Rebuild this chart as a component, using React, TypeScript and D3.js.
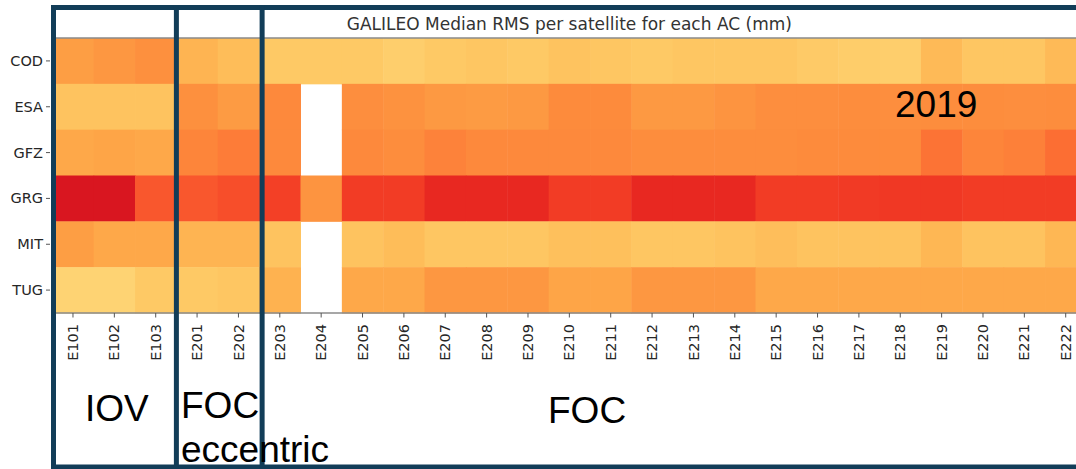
import React from 'react';
import * as d3 from 'd3';

// satellites (columns) and analysis centres (rows)
const satellites = [
  'E101', 'E102', 'E103', 'E201', 'E202', 'E203', 'E204', 'E205', 'E206', 'E207', 'E208', 'E209', 'E210',
  'E211', 'E212', 'E213', 'E214', 'E215', 'E216', 'E217', 'E218', 'E219', 'E220', 'E221', 'E222',
];
const centres = ['COD', 'ESA', 'GFZ', 'GRG', 'MIT', 'TUG'];

// median RMS (mm), null = no solution
const codRms = [17.6, 18.4, 19.2, 14.8, 13.6, 12, 12, 12, 11.2, 12, 12.4, 12, 12.8, 12.4, 12, 12.4, 12.4, 12.4, 11.8, 11.4, 11.2, 14, 12.4, 12.4, 14];
const esaRms = [12.8, 12.8, 12.8, 19.2, 18, 20, null, 19.4, 19, 18.2, 18, 18.2, 19.8, 19.8, 18.2, 18.2, 18.8, 19.4, 19.4, 19.6, 19.4, 19.6, 19.6, 19.4, 19.6];
const gfzRms = [16.4, 16.8, 16.4, 20.4, 21.2, 20, null, 20, 19.6, 20.6, 20, 20, 20, 20, 19.6, 19.6, 19.6, 19.6, 19.8, 19.8, 19.8, 22, 20.4, 20.8, 22.4];
const grgRms = [31.2, 31.2, 24.4, 24.4, 25.2, 26.4, 18.8, 26.8, 26.8, 28.8, 28.8, 28.8, 26.8, 26.8, 28.8, 28.8, 28.8, 26.8, 26.8, 27, 27.2, 27.2, 26.8, 26.8, 26.8];
const mitRms = [17.6, 16.4, 16.4, 14.8, 14.8, 12.8, null, 12.8, 13.6, 12.4, 12.4, 12.4, 13.2, 13.2, 12.4, 12.4, 12.8, 13.4, 12.8, 12.8, 12.8, 14.4, 12.8, 12.8, 14.4];
const tugRms = [10.4, 10.4, 12, 12, 12.4, 15, null, 16.4, 16.4, 18.4, 18.4, 18.4, 16.8, 16.8, 18.4, 18.4, 18.4, 16.4, 16.4, 16.4, 16.4, 16.4, 16.4, 16.4, 16.4];

// satellite groups and first satellite of each
const groupStarts = ['E101', 'E201', 'E203'];

const App = () => {
  const width = 1076,
    height = 469;

  const rows = [codRms, esaRms, gfzRms, grgRms, mitRms, tugRms];
  const cells = [];
  rows.forEach((vals, i) => {
    vals.forEach((v, j) => {
      cells.push({ ac: centres[i], sat: satellites[j], value: v });
    });
  });

  var x = d3.scaleBand().domain(satellites).range([52.3, 1086.4]);
  var y = d3.scaleBand().domain(centres).range([38, 313]);
  var color = d3.scaleSequential(d3.interpolateYlOrRd).domain([0, 40]);

  const boxColor = '#123d58';
  const boxTop = 7.5,
    boxBottom = 467;
  const dividers = groupStarts.map((s, i) => (i === 0 ? 53.5 : x(s) + (i === 2 ? 3 : 0)));

  const tickFont = { fontFamily: 'DejaVu Sans', fontSize: 14.5, fill: '#262626' };
  const bigFont = { fontFamily: 'Liberation Sans, Arial', fontSize: 37, fill: '#000' };

  return (
    <svg width={width} height={height} style={{ position: 'absolute', left: 0, top: 0, background: '#fff' }}>
      {/* heatmap cells */}
      <g>
        {cells.map((d) =>
          d.value == null ? null : (
            <rect
              key={d.ac + d.sat}
              x={x(d.sat)}
              y={y(d.ac)}
              width={x.bandwidth() + 0.5}
              height={y.bandwidth() + 0.5}
              fill={color(d.value)}
            />
          )
        )}
      </g>
      {/* spines */}
      <line x1={52} x2={width} y1={38} y2={38} stroke="#8a8a8a" strokeWidth={1.5} />
      <line x1={52} x2={width} y1={313} y2={313} stroke="#8a8a8a" strokeWidth={1.5} />

      {/* title */}
      <text x={(52.3 + 1086.4) / 2} y={30} textAnchor="middle" style={{ fontFamily: 'DejaVu Sans', fontSize: 17, fill: '#333' }}>
        GALILEO Median RMS per satellite for each AC (mm)
      </text>

      {/* y axis */}
      <g>
        {centres.map((c) => (
          <g key={c} transform={'translate(0,' + (y(c) + y.bandwidth() / 2) + ')'}>
            <line x1={46} x2={50} stroke="#555" strokeWidth={1} />
            <text x={43} dy="0.35em" textAnchor="end" style={tickFont}>
              {c}
            </text>
          </g>
        ))}
      </g>

      {/* x axis */}
      <g>
        {satellites.map((s) => (
          <g key={s} transform={'translate(' + (x(s) + x.bandwidth() / 2) + ',313)'}>
            <line y1={0} y2={4.5} stroke="#555" strokeWidth={1} />
            <text transform="translate(0,11) rotate(-90)" dy="0.35em" textAnchor="end" style={tickFont}>
              {s}
            </text>
          </g>
        ))}
      </g>

      {/* group boxes */}
      <g fill="none" stroke={boxColor} strokeWidth={5}>
        <line x1={51} x2={width} y1={boxTop} y2={boxTop} />
        <line x1={51} x2={width} y1={boxBottom} y2={boxBottom} />
        {dividers.map((d, i) => (
          <line key={i} x1={d} x2={d} y1={boxTop - 2.5} y2={boxBottom + 2.5} />
        ))}
      </g>

      {/* annotations */}
      <text x={85} y={421} style={bigFont}>IOV</text>
      <text x={181} y={418} style={bigFont}>FOC</text>
      <text x={181} y={462} style={bigFont}>eccentric</text>
      <text x={548} y={423} style={bigFont}>FOC</text>
      <text x={895} y={117} style={bigFont}>2019</text>
    </svg>
  );
};

export default App;
